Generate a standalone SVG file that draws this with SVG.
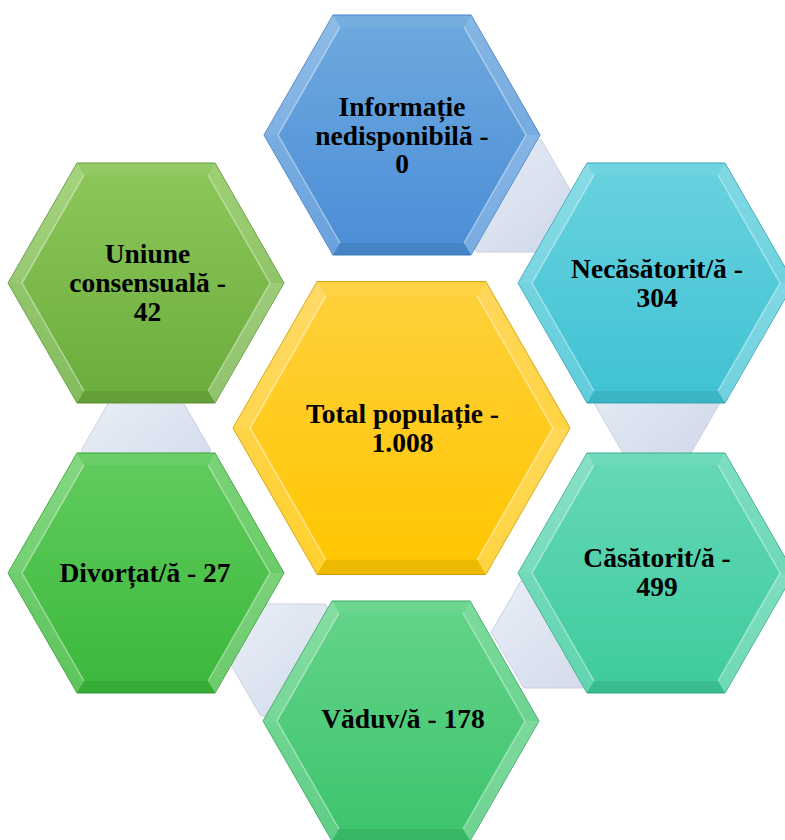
<svg xmlns="http://www.w3.org/2000/svg" xmlns:xlink="http://www.w3.org/1999/xlink" width="785" height="840" viewBox="0 0 785 840">
<style>
.lbl{font-family:"Liberation Serif","Times New Roman",serif;font-weight:bold;font-size:27.5px;fill:#000;text-anchor:middle}
.f-t{fill:#fff;fill-opacity:.06}
.f-ur{fill:#fff;fill-opacity:.16}
.f-lr{fill:#fff;fill-opacity:.26}
.f-b{fill:#000;fill-opacity:.07}
.f-ll{fill:#fff;fill-opacity:.18}
.f-ul{fill:#fff;fill-opacity:.22}
.hl{fill:none;stroke:#fff;stroke-opacity:.4;stroke-width:1.5}
.conn{fill:url(#gConn);stroke:#C8D1E0;stroke-width:1}
</style>
<defs>
<linearGradient id="gBlue" x1="0" y1="0" x2="0" y2="1"><stop offset="0" stop-color="#6FA9DF"/><stop offset="1" stop-color="#4A8ED7"/></linearGradient>
<linearGradient id="gCyan" x1="0" y1="0" x2="0" y2="1"><stop offset="0" stop-color="#69D2DF"/><stop offset="1" stop-color="#3FC2D3"/></linearGradient>
<linearGradient id="gTeal" x1="0" y1="0" x2="0" y2="1"><stop offset="0" stop-color="#66D8B7"/><stop offset="1" stop-color="#3ECB9D"/></linearGradient>
<linearGradient id="gGreen1" x1="0" y1="0" x2="0" y2="1"><stop offset="0" stop-color="#64D48A"/><stop offset="1" stop-color="#3CC46C"/></linearGradient>
<linearGradient id="gGreen2" x1="0" y1="0" x2="0" y2="1"><stop offset="0" stop-color="#62CC5E"/><stop offset="1" stop-color="#3AB83A"/></linearGradient>
<linearGradient id="gOlive" x1="0" y1="0" x2="0" y2="1"><stop offset="0" stop-color="#8DC75A"/><stop offset="1" stop-color="#6AAD3C"/></linearGradient>
<linearGradient id="gYellow" x1="0" y1="0" x2="0" y2="1"><stop offset="0" stop-color="#FFD03C"/><stop offset="1" stop-color="#FFC600"/></linearGradient>
<linearGradient id="gConn" x1="0" y1="0" x2="1" y2="1"><stop offset="0" stop-color="#EAEFF7"/><stop offset="1" stop-color="#CFD8EA"/></linearGradient>
<polygon id="hx" points="-138,0 -69,-120 69,-120 138,0 69,120 -69,120"/>
<g id="bev">
<polygon class="f-t" points="-69,-120 69,-120 62,-108 -62,-108"/>
<polygon class="f-ur" points="69,-120 138,0 124,0 62,-108"/>
<polygon class="f-lr" points="138,0 69,120 62,108 124,0"/>
<polygon class="f-b" points="69,120 -69,120 -62,108 62,108"/>
<polygon class="f-ll" points="-69,120 -138,0 -124,0 -62,108"/>
<polygon class="f-ul" points="-138,0 -69,-120 -62,-108 -124,0"/>
<polyline class="hl" points="-62,108 -124,0 -62,-108"/>
<polyline class="hl" points="62,-108 124,0 62,108"/>
</g>
<polygon id="cx" points="-64.7,0 -32.3,-56 32.3,-56 64.7,0 32.3,56 -32.3,56"/>
</defs>
<rect width="785" height="840" fill="#fff"/>
<g id="connectors">
<use xlink:href="#cx" class="conn" transform="translate(509,196)"/>
<use xlink:href="#cx" class="conn" transform="translate(657,400)"/>
<use xlink:href="#cx" class="conn" transform="translate(556,632)"/>
<use xlink:href="#cx" class="conn" transform="translate(293,660)"/>
<use xlink:href="#cx" class="conn" transform="translate(146,450)"/>
</g>
<g id="node-informatie" transform="translate(402,135)">
<use xlink:href="#hx" fill="url(#gBlue)" stroke="#3F7FC4"/>
<use xlink:href="#bev"/>
<text class="lbl" x="0" y="-19">Informație</text>
<text class="lbl" x="0" y="10">nedisponibilă -</text>
<text class="lbl" x="0" y="38">0</text>
</g>
<g id="node-necasatorit" transform="translate(656,283)">
<use xlink:href="#hx" fill="url(#gCyan)" stroke="#33A8B8"/>
<use xlink:href="#bev"/>
<text class="lbl" x="1" y="-5">Necăsătorit/ă -</text>
<text class="lbl" x="1" y="24">304</text>
</g>
<g id="node-casatorit" transform="translate(656,573)">
<use xlink:href="#hx" fill="url(#gTeal)" stroke="#34AD87"/>
<use xlink:href="#bev"/>
<text class="lbl" x="1" y="-6">Căsătorit/ă -</text>
<text class="lbl" x="1" y="23">499</text>
</g>
<g id="node-vaduv" transform="translate(401,721)">
<use xlink:href="#hx" fill="url(#gGreen1)" stroke="#35A85E"/>
<use xlink:href="#bev"/>
<text class="lbl" x="2" y="7">Văduv/ă - 178</text>
</g>
<g id="node-divortat" transform="translate(146,573)">
<use xlink:href="#hx" fill="url(#gGreen2)" stroke="#32A032"/>
<use xlink:href="#bev"/>
<text class="lbl" x="-1" y="9">Divorțat/ă - 27</text>
</g>
<g id="node-uniune" transform="translate(146,283)">
<use xlink:href="#hx" fill="url(#gOlive)" stroke="#5C9836"/>
<use xlink:href="#bev"/>
<text class="lbl" x="1.5" y="-20">Uniune</text>
<text class="lbl" x="1.5" y="9">consensuală -</text>
<text class="lbl" x="1.5" y="38">42</text>
</g>
<g id="node-total" transform="translate(401.5,428)">
<g transform="scale(1.221)">
<use xlink:href="#hx" fill="url(#gYellow)" stroke="#D6A700" stroke-width="0.82"/>
<use xlink:href="#bev"/>
</g>
<text class="lbl" x="1" y="-5">Total populație -</text>
<text class="lbl" x="1" y="24">1.008</text>
</g>
</svg>
